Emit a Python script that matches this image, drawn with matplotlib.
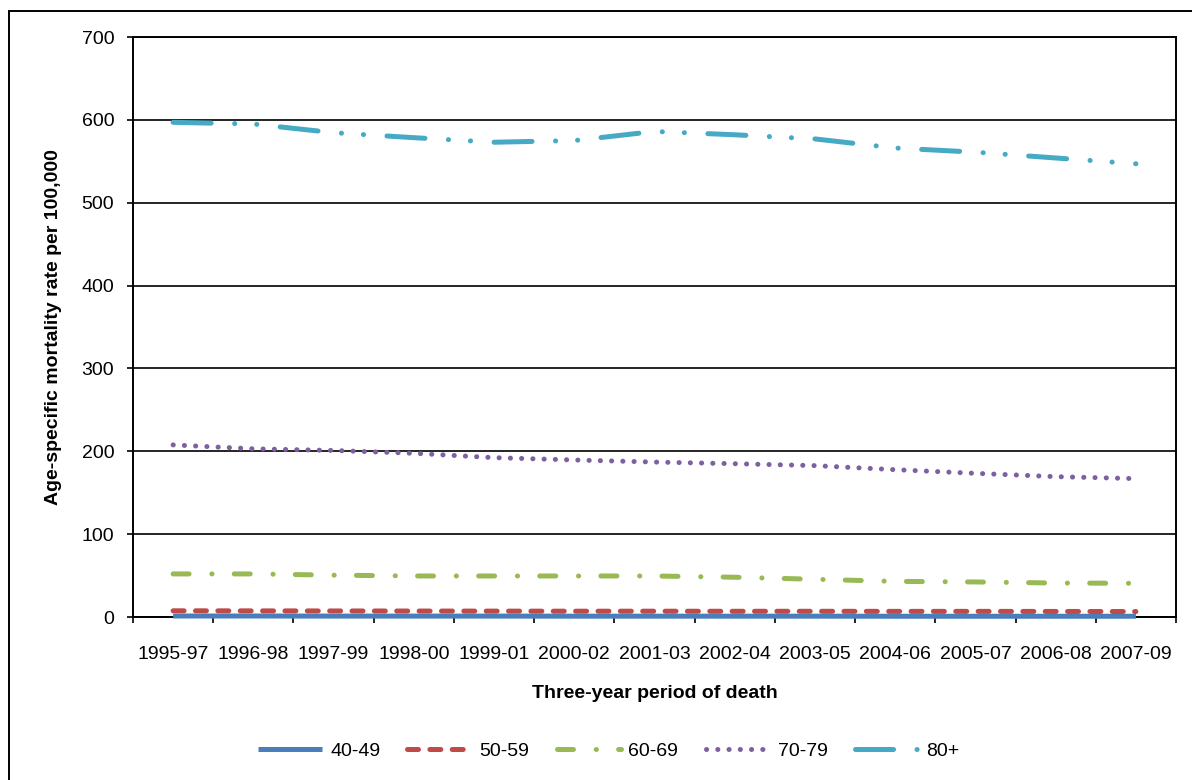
import matplotlib.pyplot as plt
from matplotlib.patches import Rectangle

# ---------------------------------------------------
# Data
# ---------------------------------------------------
periods = ['1995-97', '1996-98', '1997-99', '1998-00', '1999-01', '2000-02',
           '2001-03', '2002-04', '2003-05', '2004-06', '2005-07', '2006-08',
           '2007-09']

age_40_49 = [1.2, 1.2, 1.1, 1.1, 1.1, 1.0, 1.0, 1.0, 1.0, 0.9, 0.9, 0.9, 0.9]
age_50_59 = [7.5, 7.4, 7.3, 7.2, 7.1, 7.0, 7.0, 6.9, 6.9, 6.8, 6.8, 6.7, 6.6]
age_60_69 = [52, 52, 50.5, 49.5, 49.5, 49.5, 49.5, 48, 45.5, 43, 42.3, 41, 40.7]
age_70_79 = [207.7, 203, 201, 197.6, 192.3, 189.5, 187, 185, 182.7, 177.8,
             173.4, 169.4, 167]
age_80_plus = [597, 595, 584.5, 578.5, 573, 575, 586, 582, 577, 566, 561,
               554, 547]

labels = ['40-49', '50-59', '60-69', '70-79', '80+']
colors = ['#4A7EBB', '#BE4B48', '#98B954', '#7D60A0', '#46AAC5']

y_ticks = [0, 100, 200, 300, 400, 500, 600, 700]

# ---------------------------------------------------
# Styles
# ---------------------------------------------------
plt.rcParams['font.family'] = ['Liberation Sans', 'DejaVu Sans']
plt.rcParams['lines.scale_dashes'] = False

W, H = 1192, 780
fig = plt.figure(figsize=(W / 100, H / 100), dpi=100)

# outer chart border (runs past right and bottom edges like the crop)
fig.patches.append(Rectangle((8.5 / W, -0.1), 2.0, 1 - 11 / H + 0.1,
                             transform=fig.transFigure, fill=False,
                             edgecolor='black', linewidth=1.4))

ax = fig.add_axes([133 / W, 1 - 617 / H, (1176 - 133) / W, (617 - 37) / H])

lw = 3.6
dashes = [
    None,
    (0, (7.9, 8.2)),
    (0, (11.5, 16.4, 0.1, 16.0)),
    (0, (0.1, 8.0)),
    (0, (27.4, 16.9, 0.1, 15.8, 0.1, 16.9)),
]
series = [age_40_49, age_50_59, age_60_69, age_70_79, age_80_plus]
x = list(range(len(periods)))

handles = []
for vals, lab, col, ds in zip(series, labels, colors, dashes):
    if ds is None:
        line, = ax.plot(x, vals, color=col, linewidth=lw, label=lab,
                        solid_capstyle='butt', solid_joinstyle='round',
                        zorder=3, clip_on=False)
    else:
        line, = ax.plot(x, vals, color=col, linewidth=lw, label=lab,
                        linestyle=ds, dash_capstyle='round',
                        dash_joinstyle='round', zorder=3, clip_on=False)
    handles.append(line)

# axes
ax.set_xlim(-0.5, len(periods) - 0.5)
ax.set_ylim(0, 700)
ax.set_yticks(y_ticks)
ax.yaxis.grid(True, color='black', linewidth=1.2)
ax.set_axisbelow(True)

# category ticks between the categories, labels at the centres
ax.set_xticks([i - 0.5 for i in range(len(periods) + 1)])
ax.set_xticklabels([])
ax.set_xticks(x, minor=True)
ax.set_xticklabels(periods, minor=True)
ax.tick_params(axis='x', which='major', direction='out', length=4.5,
               width=1.2)
ax.tick_params(axis='x', which='minor', length=0, pad=21, labelsize=14)
ax.tick_params(axis='y', direction='out', length=4.5, width=1.2, pad=9,
               labelsize=14)

for sp in ax.spines.values():
    sp.set_color('black')
    sp.set_linewidth(1.4)

ax.set_xlabel('Three-year period of death', fontsize=14, fontweight='bold',
              labelpad=16)
ax.set_ylabel('Age-specific mortality rate per 100,000', fontsize=14,
              fontweight='bold', labelpad=14)

fig.legend(handles=handles, labels=labels, loc='center', ncol=5,
           bbox_to_anchor=(609 / W, 1 - 751 / H), frameon=False,
           fontsize=14, handlelength=3.3, handletextpad=0.4,
           columnspacing=1.4)

fig.savefig('out.png', dpi=100)
